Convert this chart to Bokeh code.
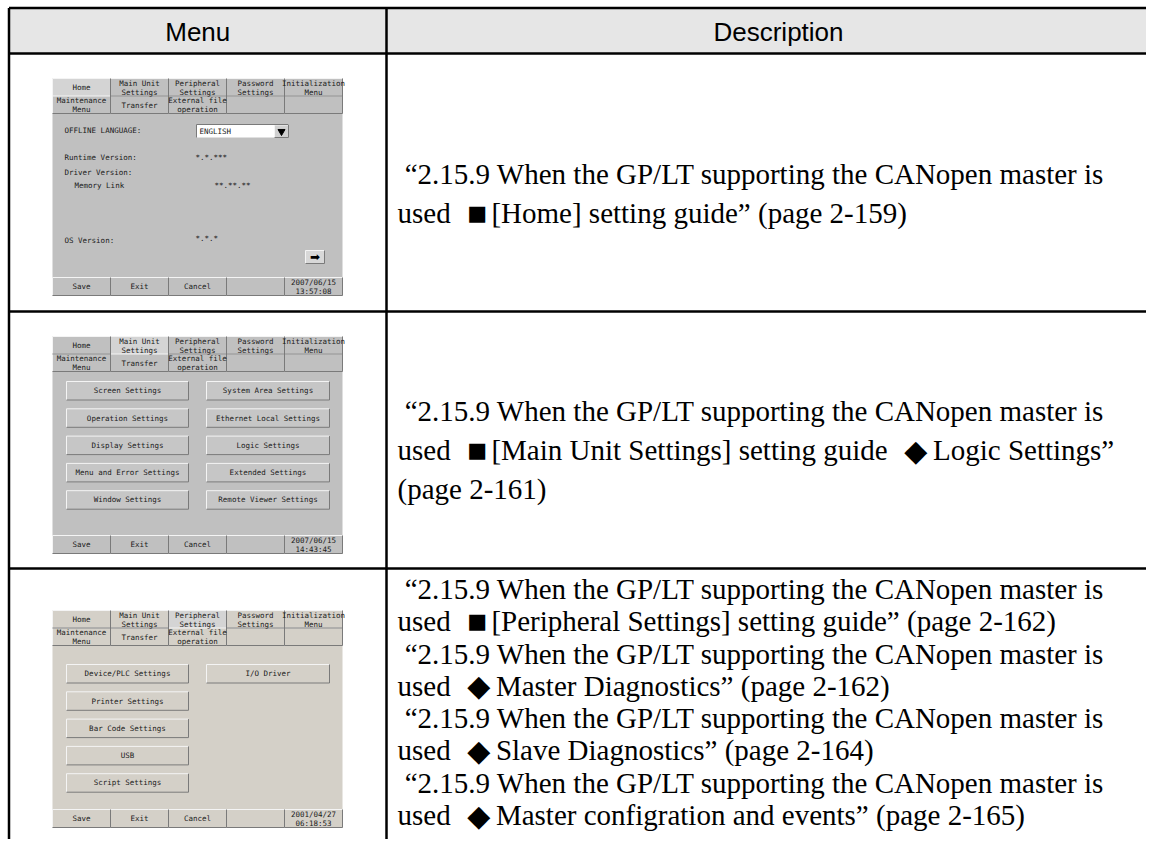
from bokeh.plotting import figure
from bokeh.models import Range1d, ColumnDataSource
from bokeh.core.properties import value
from bokeh.embed import file_html
from bokeh.resources import INLINE

# ---------------- data ----------------
headers = ["Menu", "Description"]

desc_rows = [
    ["\u201c2.15.9 When the GP/LT supporting the CANopen master is",
     "used  \u25a0 [Home] setting guide\u201d (page 2-159)"],
    ["\u201c2.15.9 When the GP/LT supporting the CANopen master is",
     "used  \u25a0 [Main Unit Settings] setting guide  \u25c6 Logic Settings\u201d",
     "(page 2-161)"],
    ["\u201c2.15.9 When the GP/LT supporting the CANopen master is",
     "used  \u25a0 [Peripheral Settings] setting guide\u201d (page 2-162)",
     "\u201c2.15.9 When the GP/LT supporting the CANopen master is",
     "used  \u25c6 Master Diagnostics\u201d (page 2-162)",
     "\u201c2.15.9 When the GP/LT supporting the CANopen master is",
     "used  \u25c6 Slave Diagnostics\u201d (page 2-164)",
     "\u201c2.15.9 When the GP/LT supporting the CANopen master is",
     "used  \u25c6 Master configration and events\u201d (page 2-165)"],
]

tabs_row1 = ["Home", "Main Unit\nSettings", "Peripheral\nSettings", "Password\nSettings", "Initialization\nMenu"]
tabs_row2 = ["Maintenance\nMenu", "Transfer", "External file\noperation", "", ""]
bottom_buttons = ["Save", "Exit", "Cancel", ""]
dates = ["2007/06/15\n13:57:08", "2007/06/15\n14:43:45", "2001/04/27\n06:18:53"]
selected_tab = [0, 1, 2]
panel_bg = ["#c0c0c0", "#c0c0c0", "#d4d0c8"]

home_labels = ["OFFLINE LANGUAGE:", "Runtime Version:", "Driver Version:", "Memory Link", "OS Version:"]
home_values = ["*.*.***", "**.**.**", "*.*.*"]
language = "ENGLISH"

main_left = ["Screen Settings", "Operation Settings", "Display Settings", "Menu and Error Settings", "Window Settings"]
main_right = ["System Area Settings", "Ethernet Local Settings", "Logic Settings", "Extended Settings", "Remote Viewer Settings"]
periph_left = ["Device/PLC Settings", "Printer Settings", "Bar Code Settings", "USB", "Script Settings"]
periph_right = ["I/O Driver"]

# ---------------- layout ----------------
W, H = 1146, 839
LEFT, COL, RIGHT = 8.5, 386, 1162
TOP, HEAD_B = 7.5, 53
ROW_B = [311, 568, 880]
PX, PW, PH = 52, 290, 217
PTOPS = [78, 336, 610]
TABW = PW / 5.0

p = figure(width=W, height=H, x_range=Range1d(0, W), y_range=Range1d(H, 0),
           output_backend="svg", toolbar_location=None, x_axis_type=None, y_axis_type=None,
           min_border=0, outline_line_color=None, background_fill_color="white",
           border_fill_color="white")
p.grid.visible = False

quads = dict(l=[], r=[], t=[], b=[], c=[])
light = dict(x0=[], y0=[], x1=[], y1=[])
dark = dict(x0=[], y0=[], x1=[], y1=[])
texts = dict(x=[], y=[], t=[])
ltexts = dict(x=[], y=[], t=[])


def bevel(l, r, t, b, fill, open_bottom=False):
    quads["l"].append(l); quads["r"].append(r); quads["t"].append(t); quads["b"].append(b); quads["c"].append(fill)
    for (x0, y0, x1, y1) in [(l, t, r, t), (l, t, l, b)]:
        light["x0"].append(x0); light["y0"].append(y0); light["x1"].append(x1); light["y1"].append(y1)
    segs = [(r, t, r, b)]
    if not open_bottom:
        segs.append((l, b, r, b))
    for (x0, y0, x1, y1) in segs:
        dark["x0"].append(x0); dark["y0"].append(y0); dark["x1"].append(x1); dark["y1"].append(y1)


def label(x, y, s, store=texts):
    store["x"].append(x); store["y"].append(y); store["t"].append(s)


# header background
p.quad(left=[LEFT], right=[RIGHT], top=[TOP], bottom=[HEAD_B], fill_color="#e6e6e6", line_color=None)

# panels (screen captures)
for k, top in enumerate(PTOPS):
    bg = panel_bg[k]
    quads["l"].append(PX); quads["r"].append(PX + PW); quads["t"].append(top); quads["b"].append(top + PH)
    quads["c"].append(bg)
    for i in range(5):
        l, r = PX + i * TABW, PX + (i + 1) * TABW
        sel = (i == selected_tab[k])
        bevel(l, r, top, top + 17.5, "#d4d4d4" if sel else bg, open_bottom=sel)
        label((l + r) / 2, top + 9, tabs_row1[i])
        bevel(l, r, top + 17.5, top + 35, bg)
        label((l + r) / 2, top + 26.5, tabs_row2[i])
    for i in range(5):
        l, r = PX + i * TABW, PX + (i + 1) * TABW
        bevel(l, r, top + PH - 18, top + PH, bg)
        s = bottom_buttons[i] if i < 4 else dates[k]
        label((l + r) / 2, top + PH - 9, s)

# panel 1: Home
t0 = PTOPS[0]
for s, xx, yy in zip(home_labels, [12, 12, 12, 22, 12], [52, 79, 94, 107, 162]):
    label(PX + xx, t0 + yy, s, ltexts)
for s, xx, yy in zip(home_values, [143, 162, 143], [79, 107, 160]):
    label(PX + xx, t0 + yy, s, ltexts)
quads["l"].append(PX + 144); quads["r"].append(PX + 236); quads["t"].append(t0 + 46); quads["b"].append(t0 + 59)
quads["c"].append("white")
dark["x0"] += [PX + 144, PX + 144]; dark["y0"] += [t0 + 46, t0 + 46]
dark["x1"] += [PX + 236, PX + 144]; dark["y1"] += [t0 + 46, t0 + 59]
bevel(PX + 222, PX + 236, t0 + 46.5, t0 + 59, "#d0d0d0")
label(PX + 147, t0 + 52.5, language, ltexts)
bevel(PX + 253, PX + 272, t0 + 172, t0 + 185, "#d8d8d8")

# panel 2: Main unit settings
t1 = PTOPS[1]
for i, (a, b) in enumerate(zip(main_left, main_right)):
    y = t1 + 45 + i * 27.3
    bevel(PX + 14, PX + 136, y, y + 18.5, "#c6c6c6")
    label(PX + 75, y + 9.25, a)
    bevel(PX + 154, PX + 277, y, y + 18.5, "#c6c6c6")
    label(PX + 215.5, y + 9.25, b)

# panel 3: Peripheral settings
t2 = PTOPS[2]
for i, a in enumerate(periph_left):
    y = t2 + 54 + i * 27.3
    bevel(PX + 14, PX + 136, y, y + 18.5, "#d4d0c8")
    label(PX + 75, y + 9.25, a)
for i, b in enumerate(periph_right):
    y = t2 + 54 + i * 27.3
    bevel(PX + 154, PX + 277, y, y + 18.5, "#d4d0c8")
    label(PX + 215.5, y + 9.25, b)

p.quad(left=quads["l"], right=quads["r"], top=quads["t"], bottom=quads["b"],
       fill_color=quads["c"], line_color=None)
p.segment(x0=light["x0"], y0=light["y0"], x1=light["x1"], y1=light["y1"], line_color="#f4f4f4", line_width=1)
p.segment(x0=dark["x0"], y0=dark["y0"], x1=dark["x1"], y1=dark["y1"], line_color="#7a7a7a", line_width=1)

screen_font = value("DejaVu Sans Mono")
p.text(x=texts["x"], y=texts["y"], text=texts["t"], text_font=screen_font, text_font_size="7.5px",
       text_align="center", text_baseline="middle", text_line_height=1.0, text_color="#1a1a1a")
p.text(x=ltexts["x"], y=ltexts["y"], text=ltexts["t"], text_font=screen_font,
       text_font_size="7.5px", text_align="left", text_baseline="middle", text_color="#1a1a1a")
p.scatter(x=[PX + 229], y=[t0 + 53], marker="inverted_triangle", size=7, color="black")
p.text(x=[PX + 262.5], y=[t0 + 178.5], text=["\u27a1"], text_font=value("DejaVu Sans"), text_font_size="12px",
       text_align="center", text_baseline="middle", text_color="black")

# table lines
p.segment(x0=[LEFT, COL], y0=[TOP, TOP], x1=[LEFT, COL], y1=[900, 900], line_color="black", line_width=2.5)
hy = [TOP, HEAD_B] + ROW_B[:2]
p.segment(x0=[LEFT] * 4, y0=hy, x1=[RIGHT] * 4, y1=hy, line_color="black", line_width=2.5)

p.text(x=[(LEFT + COL) / 2, (COL + RIGHT) / 2 + 4], y=[31, 31], text=headers,
       text_font=value("Liberation Sans"), text_font_size="26px", text_align="center",
       text_baseline="middle", text_color="black")

# description text, laid out with Times metrics (per 1000 em)
TW = dict(zip("abcdefghijklmnopqrstuvwxyz",
              [444, 500, 444, 500, 444, 333, 500, 500, 278, 278, 500, 278, 778, 500, 500, 500, 500, 333, 389,
               278, 500, 500, 722, 500, 500, 444]))
TW.update(zip("ABCDEFGHIJKLMNOPQRSTUVWXYZ",
              [722, 667, 667, 722, 611, 556, 722, 722, 333, 389, 722, 611, 889, 722, 722, 556, 722, 667, 556,
               611, 722, 722, 944, 722, 722, 611]))
TW.update({c: 500 for c in "0123456789"})
TW.update({" ": 250, "\u201c": 444, "\u201d": 444, ".": 250, "/": 278, "[": 333, "]": 333,
           "(": 333, ")": 333, "-": 333})
FS = 29
SYMS = {"\u25a0": (19.0, "21px"), "\u25c6": (23.5, "30px")}


def tw(s):
    return sum(TW.get(c, 500) for c in s) * FS / 1000.0


X0 = 397
layout = [(183.5, 39), (440, 39), (692, 32.3)]
tx, ty, tt = [], [], []
sx, sy, st, ss = [], [], [], []


def flush(piece, cur, base):
    stripped = piece.lstrip(" ")
    cur += tw(piece[:len(piece) - len(stripped)])
    if stripped:
        tx.append(cur); ty.append(base); tt.append(stripped)
    return cur + tw(stripped)


for lines, (c, lh) in zip(desc_rows, layout):
    n = len(lines)
    for j, s in enumerate(lines):
        base = c + (j - (n - 1) / 2.0) * lh + 9.5
        cur = X0 + (tw(" ") if s.startswith("\u201c") else 0)
        piece = ""
        for ch in s:
            if ch in SYMS:
                cur = flush(piece, cur, base)
                piece = ""
                sx.append(cur + 2); sy.append(base); st.append(ch); ss.append(SYMS[ch][1])
                cur += SYMS[ch][0]
            else:
                piece += ch
        flush(piece, cur, base)

p.text(x=tx, y=ty, text=tt, text_font=value("Liberation Serif"), text_font_size="%dpx" % FS,
       text_align="left", text_baseline="alphabetic", text_color="black")
src = ColumnDataSource(dict(x=sx, y=sy, t=st, fs=ss))
p.text(x="x", y="y", text="t", source=src, text_font=value("DejaVu Sans"), text_font_size="fs",
       text_align="left", text_baseline="alphabetic", text_color="black")

open("out.html", "w").write(file_html(p, INLINE))
